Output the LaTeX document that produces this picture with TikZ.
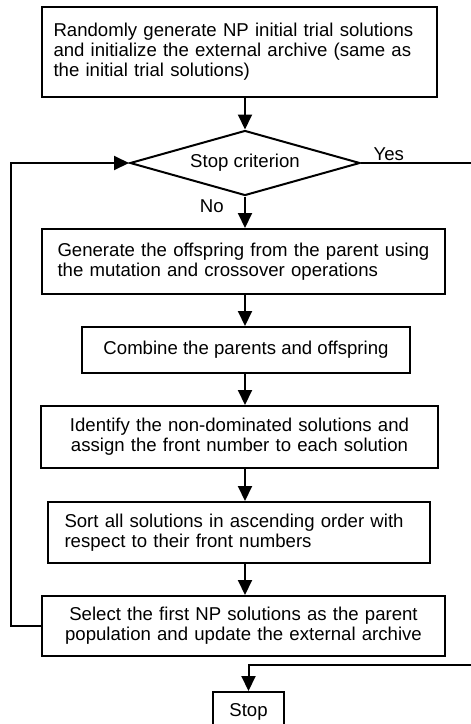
\documentclass[tikz,border=0pt]{standalone}
\usepackage{fontspec}
\setmainfont{Liberation Sans}
\usepackage{tikz}
\usetikzlibrary{shapes.geometric, arrows.meta, positioning}
\newcommand{\fullline}[2]{\makebox[#1][s]{#2}}

\begin{document}
\begin{tikzpicture}[x=1pt, y=-1pt,
    every node/.style={font=\fontsize{18.6}{20}\selectfont},
    stepbox/.style={draw=black, line width=2pt, rectangle, inner sep=0pt},
    decision/.style={draw=black, line width=2pt, diamond, aspect=3.5, inner sep=0pt, minimum width=230pt, minimum height=65pt},
    flow/.style={draw=black, line width=2pt},
    arr/.style={flow, -{Triangle[length=15pt, width=14pt]}}
]
    \useasboundingbox (0,0) rectangle (471,724);

    % Steps
    \node[stepbox, minimum width=395pt, minimum height=90pt, text width=372pt, align=left] (init) at (239.5,52)
        {\fullline{372pt}{Randomly generate NP initial trial solutions}\\
         \fullline{372pt}{and initialize the external archive (same as}\\
         the initial trial solutions)};
    \node[decision] (crit) at (245,163) {Stop criterion};
    \node[stepbox, minimum width=403pt, minimum height=65pt, text width=372pt, align=left] (offs) at (243.5,261.5)
        {Generate the offspring from the parent using\\ the mutation and crossover operations};
    \node[stepbox, minimum width=328pt, minimum height=46pt] (comb) at (246,350) {Combine the parents and offspring};
    \node[stepbox, minimum width=397pt, minimum height=62pt, text width=380pt, align=center] (front) at (239.5,437)
        {Identify the non-dominated solutions and\\ assign the front number to each solution};
    \node[stepbox, minimum width=382pt, minimum height=61pt, text width=349pt, align=left] (sort) at (239,532.5)
        {\fullline{349pt}{Sort all solutions in ascending order with}\\ respect to their front numbers};
    \node[stepbox, minimum width=403pt, minimum height=60pt, text width=380pt, align=center] (sel) at (243.5,626)
        {Select the first NP solutions as the parent\\ population and update the external archive};
    \node[stepbox, minimum width=71pt, minimum height=40pt] (stop) at (248.5,712) {Stop};

    \coordinate (yesout) at (472,163);
    \coordinate (stopin) at (472,665);

    % Connections
    \draw[arr] (init.south -| crit.north) -- (crit.north);
    \draw[arr] (crit.south) -- node[left, pos=0.32, xshift=-17pt]{No} (offs.north -| crit.south);
    \draw[arr] (offs.south -| crit.south) -- (comb.north -| crit.south);
    \draw[arr] (comb.south -| crit.south) -- (front.north -| crit.south);
    \draw[arr] (front.south -| crit.south) -- (sort.north -| crit.south);
    \draw[arr] (sort.south -| crit.south) -- (sel.north -| crit.south);
    \draw[arr] (sel.west) -- ++(-30,0) |- (crit.west);
    \draw[flow] (crit.east) -- node[above, pos=0.25, yshift=-2pt]{Yes} (yesout);
    \draw[arr] (stopin) -| (stop.north);
\end{tikzpicture}
\end{document}
